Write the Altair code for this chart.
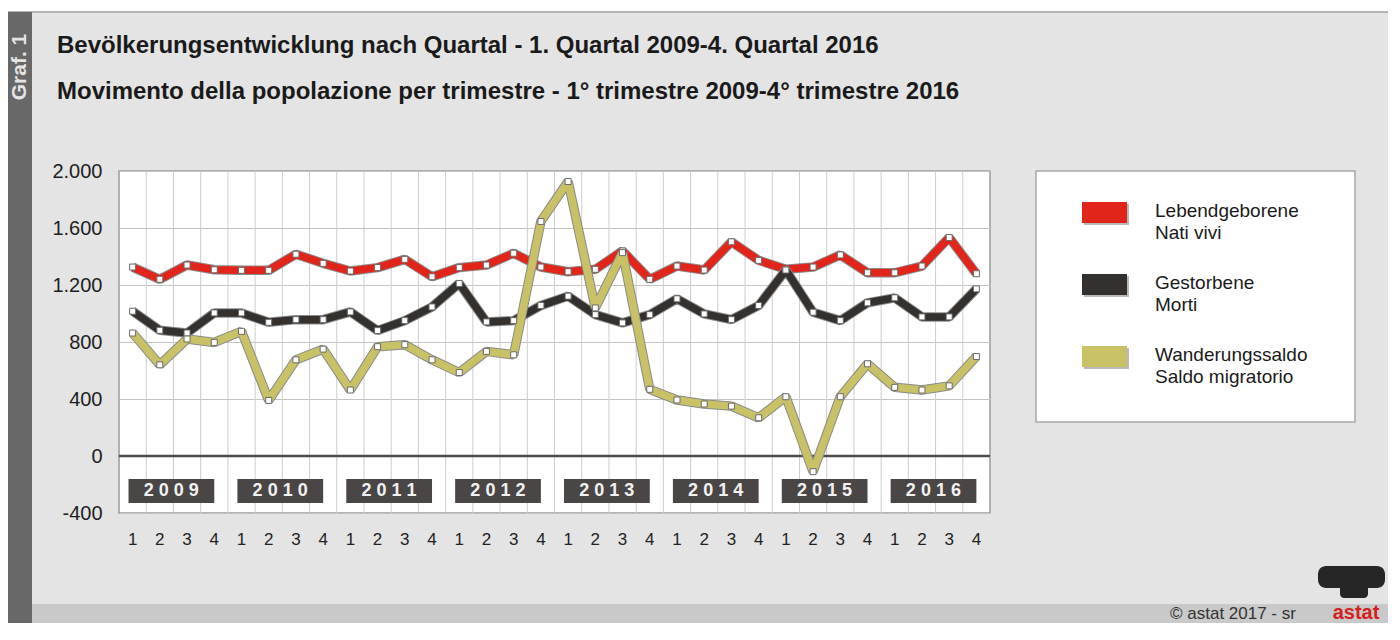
import altair as alt
import pandas as pd

# ---------------- data ----------------
years = [2009, 2010, 2011, 2012, 2013, 2014, 2015, 2016]
quarters = ["1", "2", "3", "4"]
births = [1326, 1240, 1340, 1307, 1303, 1303, 1416, 1352,
          1298, 1322, 1380, 1258, 1322, 1340, 1423, 1326,
          1293, 1310, 1439, 1240, 1333, 1305, 1503, 1373,
          1310, 1326, 1411, 1286, 1286, 1333, 1533, 1279]
deaths = [1016, 882, 863, 1004, 1004, 938, 957, 957,
          1011, 880, 950, 1046, 1211, 941, 950, 1056,
          1122, 992, 934, 992, 1103, 997, 957, 1056,
          1305, 1009, 950, 1075, 1110, 976, 976, 1173]
migration = [863, 640, 821, 797, 875, 390, 675, 750,
             463, 767, 781, 675, 586, 734, 710, 1646,
             1926, 1039, 1427, 468, 393, 365, 350, 268,
             416, -110, 416, 647, 482, 463, 492, 698]
series_de = ["Lebendgeborene", "Gestorbene", "Wanderungssaldo"]
series_it = ["Nati vivi", "Morti", "Saldo migratorio"]
series_colors = ["#e1251b", "#33302e", "#c9c165"]
y_ticks = [-400, 0, 400, 800, 1200, 1600, 2000]
title_de = "Bevölkerungsentwicklung nach Quartal - 1. Quartal 2009-4. Quartal 2016"
title_it = "Movimento della popolazione per trimestre - 1° trimestre 2009-4° trimestre 2016"

FONT = "Liberation Sans"
n = len(years) * len(quarters)

rows = []
for s, vals in zip(series_de, [births, deaths, migration]):
    for i, v in enumerate(vals):
        rows.append({"series": s, "pos": i + 0.5, "value": v})
df = pd.DataFrame(rows)

qdf = pd.DataFrame({"pos": [i + 0.5 for i in range(n)],
                    "q": [quarters[i % 4] for i in range(n)]})
ydf = pd.DataFrame({"x0": [4 * k + 0.35 for k in range(len(years))],
                    "x1": [4 * k + 3.5 for k in range(len(years))],
                    "xc": [4 * k + 1.92 for k in range(len(years))],
                    "label": [" ".join(str(y)) for y in years]})
gdf = pd.DataFrame({"g": list(range(1, n))})
dummy = pd.DataFrame({"a": [1]})

# ---------------- helpers ----------------
OX, OY = 119, 171  # page position of plot origin


def px(v):
    return alt.value(v - OX)


def py(v):
    return alt.value(v - OY)


xs = alt.Scale(domain=[0, n], nice=False, zero=False)
ys = alt.Scale(domain=[-400, 2000], nice=False, zero=False)
yaxis = alt.Axis(values=y_ticks,
                 labelExpr="datum.value >= 1000 ? floor(datum.value/1000) + '.' + format(datum.value % 1000, '03d') : datum.value + ''",
                 labelFont=FONT, labelFontSize=20, labelColor="#1e1e1e",
                 labelPadding=17, ticks=False, domain=False, grid=True,
                 gridColor="#c4c4c4", gridWidth=1, title=None)
X = alt.X("pos:Q", scale=xs, axis=None)
Y = alt.Y("value:Q", scale=ys, axis=yaxis)


def rect(x1, x2, y1, y2, color, **kw):
    return alt.Chart(dummy).mark_rect(color=color, **kw).encode(
        x=px(x1), x2=px(x2), y=py(y1), y2=py(y2))


def text(t, x, y, size, color="#1a1a1a", bold=False, align="left", **kw):
    return alt.Chart(dummy).mark_text(
        text=t, font=FONT, fontSize=size, color=color,
        fontWeight="bold" if bold else "normal", align=align,
        baseline="middle", **kw).encode(x=px(x), y=py(y))


layers = []

# ---------------- frame decorations ----------------
layers.append(rect(8, 1400, 8, 12, "#ffffff"))
layers.append(rect(8, 1400, 11, 13, "#b4b4b4"))
layers.append(rect(8, 32, 12, 640, "#686868"))
layers.append(text("Graf. 1", 20, 67, 21, color="#e4e4e4", bold=True,
                   align="center", angle=270))
layers.append(text(title_de, 57, 46, 24, bold=True))
layers.append(text(title_it, 57, 92, 24, bold=True))

# footer
layers.append(rect(32, 1400, 604, 624, "#c9c9c9"))
layers.append(text("© astat 2017 - sr", 1170, 614, 17, color="#333333"))
layers.append(alt.Chart(dummy).mark_rect(color="#262626", cornerRadius=8).encode(
    x=px(1318), x2=px(1385), y=py(566), y2=py(588)))
layers.append(alt.Chart(dummy).mark_rect(color="#262626", cornerRadius=4).encode(
    x=px(1340), x2=px(1368), y=py(584), y2=py(598)))
layers.append(text("astat", 1356, 613, 20, color="#d42020", bold=True, align="center"))

# ---------------- plot grid ----------------
layers.append(alt.Chart(gdf).mark_rule(color="#cdcdcd", strokeWidth=1).encode(
    x=alt.X("g:Q", scale=xs, axis=None)))

# base chart carrying the y axis
layers.append(alt.Chart(df).mark_point(opacity=0).encode(x=X, y=Y))

# year boxes
layers.append(alt.Chart(ydf).mark_rect(color="#4a4646").encode(
    x=alt.X("x0:Q", scale=xs, axis=None), x2="x1:Q",
    y=py(479), y2=py(503)))
layers.append(alt.Chart(ydf).mark_text(font=FONT, fontSize=18, fontWeight="bold",
                                       color="#f2f2f2", baseline="middle").encode(
    x=alt.X("xc:Q", scale=xs, axis=None), y=py(491), text="label:N"))

# zero line
layers.append(alt.Chart(dummy).mark_rule(color="#4d4d4d", strokeWidth=2.5).encode(
    y=alt.Y(datum=0, scale=ys, axis=yaxis)))

# quarter labels
layers.append(alt.Chart(qdf).mark_text(font=FONT, fontSize=17, color="#222222",
                                       baseline="middle").encode(
    x=alt.X("pos:Q", scale=xs, axis=None), y=py(540), text="q:N"))

# ---------------- data lines ----------------
for name, col in zip(series_de, series_colors):
    base = alt.Chart(df).transform_filter(alt.datum.series == name)
    layers.append(base.mark_line(color="#8a8a8a", strokeWidth=9.5,
                                 strokeJoin="bevel").encode(x=X, y=Y))
    layers.append(base.mark_line(color=col, strokeWidth=7.5,
                                 strokeJoin="bevel").encode(x=X, y=Y))
for name in series_de:
    base = alt.Chart(df).transform_filter(alt.datum.series == name)
    layers.append(base.mark_square(size=36, filled=True, color="#ffffff",
                                   stroke="#6a6a6a", strokeWidth=1, opacity=1).encode(x=X, y=Y))

# ---------------- legend ----------------
layers.append(alt.Chart(dummy).mark_rect(color="#ffffff", stroke="#a8a8a8", strokeWidth=1.5).encode(
    x=px(1036), x2=px(1355), y=py(171), y2=py(422)))
for k, (de, it, col) in enumerate(zip(series_de, series_it, series_colors)):
    top = 202 + 72 * k
    layers.append(rect(1084, 1129, top + 2, top + 23, "#9a9a9a", opacity=0.7))
    layers.append(rect(1082, 1127, top, top + 21, col))
    layers.append(text(de, 1155, top + 9, 19))
    layers.append(text(it, 1155, top + 31, 19))

chart = alt.layer(*layers).properties(
    width=871, height=342,
    autosize=alt.AutoSizeParams(type="none"),
    padding={"left": 111, "top": 163, "right": 398, "bottom": 110},
).configure(background="#e4e4e4").configure_view(
    stroke="#9a9a9a", strokeWidth=1.5, fill="#ffffff")

chart.save("out.html", embed_options={"renderer": "svg", "actions": False})
